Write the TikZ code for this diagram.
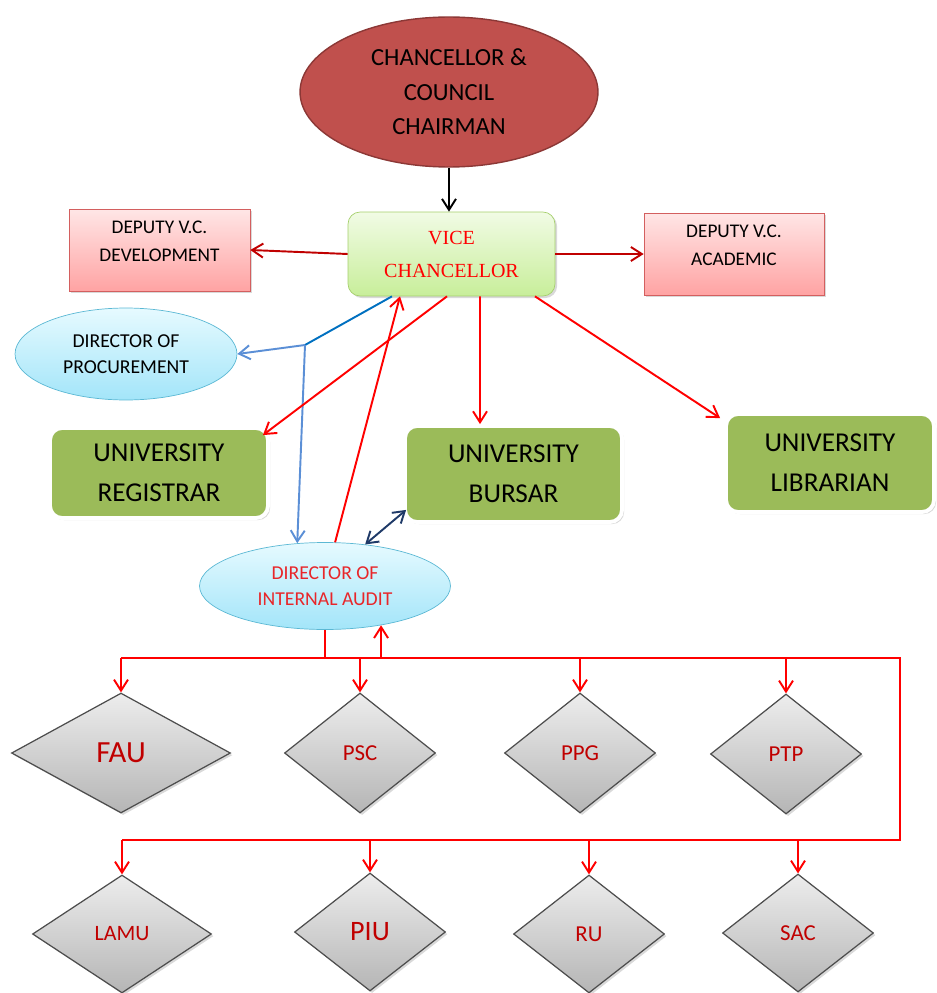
\documentclass[tikz,border=0pt]{standalone}
\usepackage{fontspec}
\setmainfont{Carlito}
\newfontfamily\vcfont{Liberation Serif}
\usetikzlibrary{arrows.meta,calc,shapes.geometric,shadows}
\definecolor{ChanClr}{HTML}{C0504D}
\definecolor{ChanLine}{HTML}{8C3836}
\definecolor{VcTop}{HTML}{F1FBE5}
\definecolor{VcBot}{HTML}{C8EE9A}
\definecolor{VcLine}{HTML}{A5CF6B}
\definecolor{DepTop}{HTML}{FFE6E6}
\definecolor{DepBot}{HTML}{FFA3A3}
\definecolor{DepLine}{HTML}{D35F5F}
\definecolor{DirTop}{HTML}{E6FAFF}
\definecolor{DirBot}{HTML}{A3E5F9}
\definecolor{DirLine}{HTML}{5BB8D4}
\definecolor{UniClr}{HTML}{9BBB59}
\definecolor{UnitTop}{HTML}{EDEDED}
\definecolor{UnitBot}{HTML}{B5B5B5}
\definecolor{UnitLine}{HTML}{4D4D4D}
\definecolor{UnitText}{HTML}{C00000}
\definecolor{LinkRed}{HTML}{FF0000}
\definecolor{DarkRed}{HTML}{C00000}
\definecolor{ProcBlue}{HTML}{0070C0}
\definecolor{LightBlue}{HTML}{5B8FD6}
\definecolor{Navy}{HTML}{1F3A68}
\definecolor{AuditText}{HTML}{E8262A}
\newcommand\setfs[2]{\fontsize{#1}{#2}\selectfont}

\begin{document}
\begin{tikzpicture}[x=0.02cm,y=-0.02cm,
  >={Straight Barb[length=2.2mm,width=2.8mm]},
  every node/.style={align=center,inner sep=0pt},
  softshadow/.style={drop shadow={shadow xshift=1.2pt,shadow yshift=-1.2pt,opacity=.3}},
  chanbox/.style={ellipse,draw=ChanLine,fill=ChanClr,line width=0.8pt,minimum width=5.96cm,minimum height=3cm,font=\setfs{14pt}{19.6pt}},
  vcbox/.style={rectangle,rounded corners=0.24cm,draw=VcLine,top color=VcTop,bottom color=VcBot,minimum width=4.14cm,minimum height=1.68cm,text=LinkRed,font=\vcfont\setfs{11.4pt}{18.8pt},softshadow},
  depbox/.style={rectangle,draw=DepLine,top color=DepTop,bottom color=DepBot,minimum height=1.64cm,font=\setfs{11pt}{16pt},softshadow},
  dirbox/.style={ellipse,draw=DirLine,top color=DirTop,bottom color=DirBot,font=\setfs{11.2pt}{14.8pt}},
  unibox/.style={rectangle,rounded corners=0.24cm,draw=white,line width=2.2pt,fill=UniClr,font=\setfs{15.5pt}{22.8pt},softshadow},
  unitbox/.style={diamond,draw=UnitLine,line width=0.7pt,top color=UnitTop,bottom color=UnitBot,minimum width=3.02cm,minimum height=2.4cm,text=UnitText,font=\setfs{13pt}{13pt},softshadow},
  link/.style={->,line width=1.1pt,color=LinkRed},
  busline/.style={line width=1.3pt,color=LinkRed}]
\useasboundingbox (0,0) rectangle (936,993);

\node[chanbox] (chan) at (449,92) {CHANCELLOR \&\\COUNCIL\\CHAIRMAN};
\node[vcbox] (vc) at (451.5,254) {VICE\\CHANCELLOR};
\node[depbox,minimum width=3.62cm] (dev) at (159.5,250) {DEPUTY V.C.\\DEVELOPMENT\\[-6pt]\mbox{}};
\node[depbox,minimum width=3.6cm] (acad) at (734,254) {DEPUTY V.C.\\ACADEMIC\\[-6pt]\mbox{}};
\node[dirbox,minimum width=4.44cm,minimum height=1.84cm] (proc) at (126,354) {DIRECTOR OF\\PROCUREMENT};
\node[unibox,minimum width=4.36cm,minimum height=1.8cm] (reg) at (159,473) {UNIVERSITY\\REGISTRAR};
\node[unibox,minimum width=4.34cm,minimum height=1.92cm] (bur) at (513.5,474) {UNIVERSITY\\BURSAR};
\node[unibox,minimum width=4.16cm,minimum height=1.96cm] (lib) at (830,463) {UNIVERSITY\\LIBRARIAN};
\node[dirbox,minimum width=5.02cm,minimum height=1.74cm,text=AuditText] (aud) at (325,586) {DIRECTOR OF\\INTERNAL AUDIT};

\node[unitbox,minimum width=4.38cm,font=\setfs{17.5pt}{17.5pt}] (fau) at (121,753) {FAU};
\node[unitbox] (psc) at (360,753) {PSC};
\node[unitbox] (ppg) at (580,753) {PPG};
\node[unitbox] (ptp) at (786,754) {PTP};
\node[unitbox,minimum width=3.58cm,minimum height=2.36cm,font=\setfs{12.5pt}{12.5pt}] (lamu) at (122,934) {LAMU};
\node[unitbox,minimum height=2.36cm,font=\setfs{16pt}{16pt}] (piu) at (370,932) {PIU};
\node[unitbox,minimum height=2.36cm] (ru) at (589,934) {RU};
\node[unitbox,minimum height=2.36cm] (sac) at (798,933) {SAC};

\draw[->,line width=1.1pt] (chan.south) -- (chan.south |- vc.north);
\draw[link,color=DarkRed] (vc.west) -- (dev.east);
\draw[link,color=DarkRed] (vc.east) -- (acad.west);

\coordinate (fork) at (305,345);
\draw[line width=1.1pt,color=ProcBlue] ([xshift=-1.19cm]vc.south) -- (fork);
\draw[link,color=LightBlue] (fork) -- (proc.east);
\draw[link,color=LightBlue] (fork) -- (aud.123);

\draw[link] ([xshift=-0.09cm]vc.south) -- ([xshift=-0.14cm,yshift=-0.18cm]reg.north east);
\draw[link] ([xshift=0.57cm]vc.south) -- ([xshift=-0.67cm]bur.north);
\draw[link] ([xshift=1.67cm]vc.south) -- ([xshift=-0.08cm,yshift=-0.12cm]lib.north west);
\draw[link] (aud.77) -- ([xshift=-1.03cm]vc.south);
\draw[link,<->,color=Navy] ([xshift=0.06cm,yshift=0.28cm]bur.south west) -- (aud.46);

\coordinate (b1) at (121,658);
\coordinate (b2) at (900,658);
\coordinate (b3) at (900,840);
\coordinate (b4) at (122,840);
\draw[busline] (aud.south) -- (aud.south |- b1);
\draw[link] (aud.-35 |- b1) -- (aud.-35);
\draw[busline] (b1) -- (b2) -- (b3) -- (b4);
\foreach \u in {fau,psc,ppg,ptp}
  \draw[link] (\u.north |- b1) -- (\u.north);
\foreach \u in {lamu,piu,ru,sac}
  \draw[link] (\u.north |- b4) -- (\u.north);

\end{tikzpicture}
\end{document}
